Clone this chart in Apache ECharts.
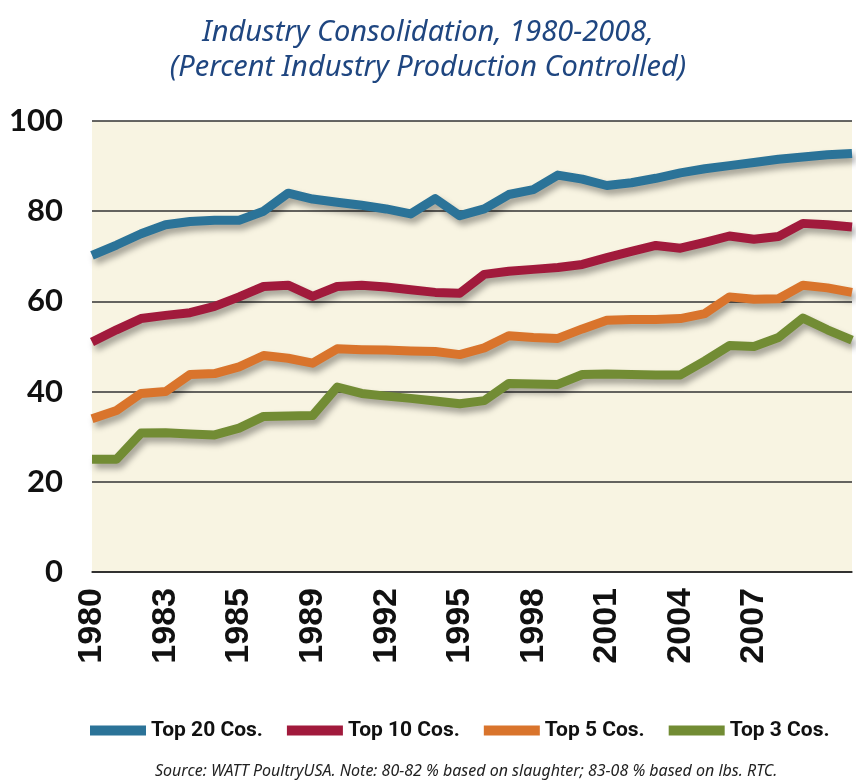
<!DOCTYPE html>
<html>
<head>
<meta charset="utf-8">
<title>Industry Consolidation</title>
<script src="https://cdn.jsdelivr.net/npm/echarts@6/dist/echarts.min.js"></script>
<style>
  html, body { margin: 0; padding: 0; background: #fff; }
  #main { width: 856px; height: 784px; }
</style>
</head>
<body>
<div id="main"></div>
<script>
// x categories: labels every third point, blanks in between
var categories = ['1980', '', '', '1983', '', '', '1985', '', '', '1989', '', '', '1992', '', '',
  '1995', '', '', '1998', '', '', '2001', '', '', '2004', '', '', '2007', '', '', '', ''];

var yTicks = [0, 20, 40, 60, 80, 100];

var seriesNames = ['Top 20 Cos.', 'Top 10 Cos.', 'Top 5 Cos.', 'Top 3 Cos.'];

var top20 = [70.2, 72.5, 75, 77, 77.7, 78, 78, 80, 84, 82.7, 82, 81.3, 80.5, 79.4, 82.8, 79,
  80.5, 83.7, 84.8, 88, 87.1, 85.7, 86.3, 87.3, 88.5, 89.4, 90.1, 90.8, 91.5, 92, 92.5, 92.8];
var top10 = [51, 53.7, 56.2, 56.9, 57.5, 58.9, 61, 63.3, 63.6, 61.1, 63.3, 63.6, 63.2, 62.6, 62, 61.8,
  66, 66.7, 67.1, 67.5, 68.2, 69.7, 71.1, 72.4, 71.8, 73.1, 74.5, 73.8, 74.4, 77.3, 77, 76.5];
var top5 = [34, 35.8, 39.6, 40, 43.8, 44, 45.5, 48, 47.4, 46.3, 49.5, 49.3, 49.2, 49, 48.9, 48.2,
  49.7, 52.4, 52, 51.8, 53.9, 55.8, 56, 56, 56.2, 57.3, 61, 60.5, 60.6, 63.6, 63, 62];
var top3 = [25, 25, 30.8, 30.9, 30.6, 30.4, 31.9, 34.5, 34.6, 34.7, 41, 39.6, 39, 38.5, 37.9, 37.3,
  38, 41.8, 41.7, 41.6, 43.8, 43.9, 43.8, 43.7, 43.7, 46.8, 50.2, 50, 52, 56.3, 53.7, 51.4];

var colors = ['#2b7398', '#a11a3c', '#d9742c', '#728c34'];

var myChart = echarts.init(document.getElementById('main'));

// shared line look: thick stroke with a soft drop shadow
function lineSeries(name, data, color) {
  return {
    name: name,
    type: 'line',
    data: data,
    symbol: 'none',
    color: color,
    lineStyle: {
      width: 9,
      color: color,
      join: 'round',
      shadowColor: 'rgba(0, 0, 0, 0.35)',
      shadowBlur: 6,
      shadowOffsetX: 3,
      shadowOffsetY: 5
    },
    animation: false
  };
}

var option = {
  backgroundColor: '#ffffff',
  title: [
    {
      text: 'Industry Consolidation, 1980-2008,\n(Percent Industry Production Controlled)',
      left: 'center',
      top: 10,
      textStyle: {
        fontFamily: 'Noto Sans',
        fontStyle: 'italic',
        fontWeight: 'normal',
        fontSize: 29,
        lineHeight: 35,
        color: '#1f4680'
      }
    },
    {
      text: 'Source: WATT PoultryUSA. Note: 80-82 % based on slaughter; 83-08 % based on lbs. RTC.',
      left: 150,
      top: 758,
      textStyle: {
        fontFamily: 'Noto Sans',
        fontStyle: 'italic',
        fontWeight: 'normal',
        fontSize: 16,
        color: '#222'
      }
    }
  ],
  legend: {
    data: seriesNames,
    left: 85,
    top: 715,
    icon: 'rect',
    itemWidth: 56,
    itemHeight: 10,
    itemGap: 24,
    textStyle: {
      fontFamily: 'Roboto, sans-serif',
      fontWeight: 'bold',
      fontSize: 21,
      color: '#111'
    }
  },
  grid: {
    left: 92,
    right: 4,
    top: 121,
    bottom: 212,
    show: true,
    backgroundColor: '#f8f4e2',
    borderWidth: 0
  },
  xAxis: {
    type: 'category',
    data: categories,
    boundaryGap: false,
    axisTick: { show: false },
    axisLine: { show: true, lineStyle: { color: '#222', width: 1.5 } },
    axisLabel: {
      interval: 0,
      rotate: 90,
      margin: 16,
      fontFamily: 'Liberation Sans',
      fontWeight: 'bold',
      fontSize: 34,
      color: '#111'
    }
  },
  yAxis: {
    type: 'value',
    min: yTicks[0],
    max: yTicks[yTicks.length - 1],
    interval: 20,
    axisLine: { show: false },
    axisTick: { show: false },
    axisLabel: {
      margin: 29,
      fontFamily: 'Lato',
      fontWeight: 'bold',
      fontSize: 31,
      color: '#111'
    },
    splitLine: { lineStyle: { color: '#333', width: 1.5 } }
  },
  series: [
    lineSeries(seriesNames[0], top20, colors[0]),
    lineSeries(seriesNames[1], top10, colors[1]),
    lineSeries(seriesNames[2], top5, colors[2]),
    lineSeries(seriesNames[3], top3, colors[3])
  ]
};

myChart.setOption(option);
</script>
</body>
</html>
